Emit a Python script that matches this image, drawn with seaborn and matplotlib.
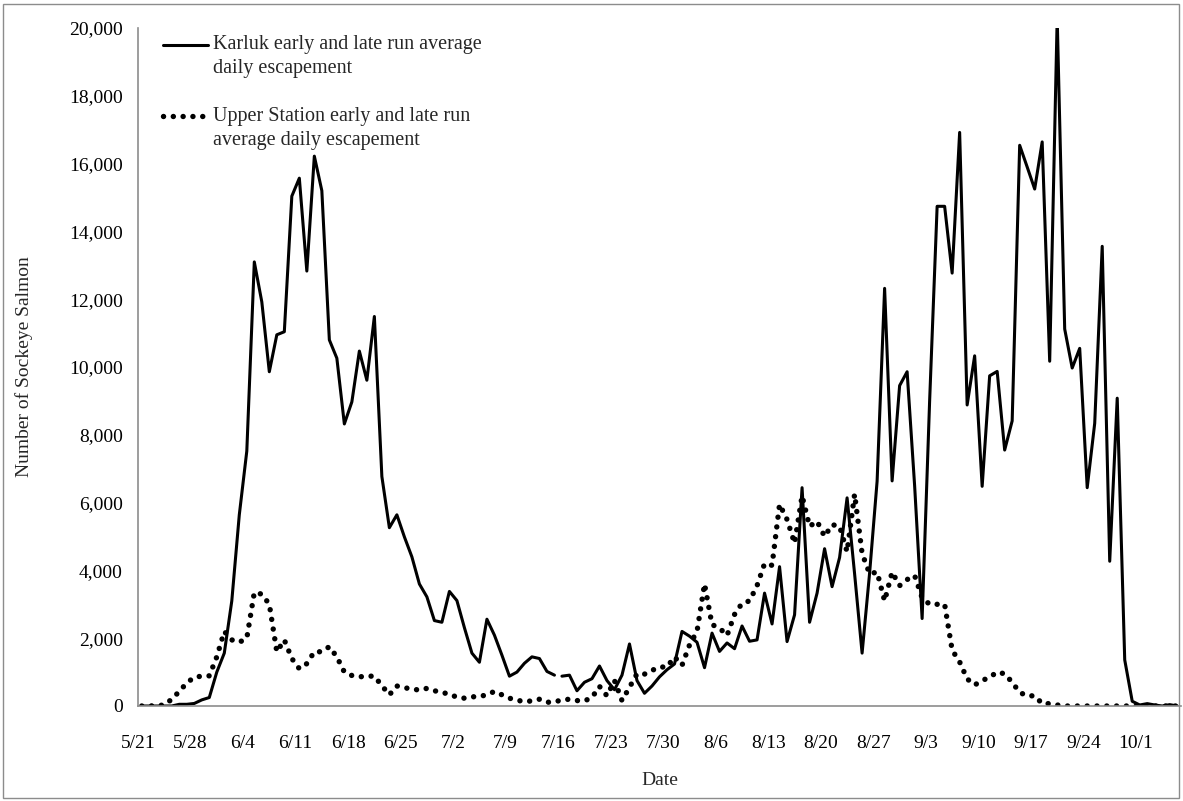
import matplotlib
matplotlib.use("Agg")
import matplotlib.pyplot as plt
import seaborn as sns
import pandas as pd
import numpy as np
from matplotlib.lines import Line2D
from matplotlib.patches import Rectangle

# Days since 5/21 (0 .. 138)
tick_labels = ["5/21", "5/28", "6/4", "6/11", "6/18", "6/25", "7/2", "7/9", "7/16",
               "7/23", "7/30", "8/6", "8/13", "8/20", "8/27", "9/3", "9/10", "9/17",
               "9/24", "10/1"]

karluk = [0, 0, 0, 0, 0, 50, 50, 75, 180, 250,
          1000, 1560, 3100, 5640, 7520, 13100, 11920, 9860, 10950, 11040,
          15040, 15570, 12830, 16220, 15200, 10800, 10260, 8320, 8970, 10470,
          9610, 11490, 6770, 5260, 5640, 4990, 4400, 3600, 3220, 2520,
          2470, 3380, 3110, 2310, 1560, 1290, 2560, 2090, 1500, 880,
          1000, 1260, 1450, 1400, 1020, 910, 880, 910, 450, 700,
          805, 1180, 750, 480, 910, 1830, 750, 375, 590, 860,
          1070, 1240, 2200, 2060, 1880, 1130, 2150, 1610, 1860, 1690,
          2360, 1910, 1950, 3330, 2420, 4110, 1900, 2690, 6440, 2470,
          3330, 4640, 3520, 4380, 6140, 3900, 1560, 3920, 6630, 12320,
          6640, 9450, 9860, 6500, 2580, 9000, 14740, 14740, 12770, 16920,
          8880, 10330, 6480, 9740, 9870, 7550, 8410, 16540, 15900, 15250,
          16640, 10170, 20300, 11120, 9970, 10550, 6440, 8340, 13560, 4270,
          9080, 1360, 140, 30, 70, 30, 0, 40, 0]

upper = [0, 0, 10, 30, 200, 430, 680, 850, 880, 890,
         1450, 2200, 1950, 1880, 2000, 3350, 3300, 3000, 1600, 1950,
         1400, 1100, 1250, 1600, 1600, 1750, 1450, 1000, 900, 860,
         880, 880, 600, 330, 590, 540, 500, 470, 520, 450,
         400, 350, 260, 230, 270, 280, 330, 430, 330, 230,
         170, 130, 150, 200, 110, 120, 180, 200, 160, 150,
         250, 580, 300, 750, 160, 550, 950, 940, 1050, 1150,
         1150, 1450, 1200, 1800, 2200, 3600, 2400, 2300, 2080, 2700,
         3030, 3100, 3550, 4200, 4150, 5950, 5500, 4800, 6200, 5300,
         5450, 5000, 5350, 5300, 4550, 6250, 4500, 3900, 3950, 3100,
         3950, 3550, 3730, 3850, 3190, 3000, 3000, 3000, 1650, 1300,
         800, 620, 750, 850, 1000, 950, 700, 400, 300, 300,
         70, 70, 30, 0, 0, 0, 0, 0, 0, 0,
         0, 0, 0, 0, 0, 0, 0, 0, 0]

karluk_gap_after = 55  # Karluk line is broken between this day and the next

legend_lines = [["Karluk early and late run average", "daily escapement"],
                ["Upper Station early and late run", "average daily escapement"]]

n = len(karluk)
days = np.arange(n) + 0.5
df = pd.DataFrame({"day": days, "karluk": karluk, "upper": upper})

sns.set_theme(style="white")
plt.rcParams["font.family"] = ["Liberation Serif", "DejaVu Serif"]

W, H = 1183, 801
fig = plt.figure(figsize=(W / 100, H / 100), dpi=100)
fig.patches.append(Rectangle((3 / W, 3 / H), 1 - 7 / W, 1 - 7 / H, transform=fig.transFigure,
                             fill=False, edgecolor="#8c8c8c", linewidth=1.0))
ax = fig.add_axes([138 / W, 1 - 706 / H, (1181 - 138) / W, (706 - 28) / H])

solid_kw = dict(color="black", linewidth=2.2)
dot_kw = dict(color="black", linewidth=3.9, linestyle=(0, (0.01, 1.8)), dash_capstyle="round")

seg1 = df[df["day"] < karluk_gap_after + 1]
seg2 = df[df["day"] > karluk_gap_after + 1]
for seg in (seg1, seg2):
    sns.lineplot(data=seg, x="day", y="karluk", ax=ax, estimator=None, sort=False, **solid_kw)
sns.lineplot(data=df, x="day", y="upper", ax=ax, estimator=None, sort=False, **dot_kw)
ax.lines[-1].set_dash_capstyle("round")

ax.set_xlim(0, n)
ax.set_ylim(0, 20000)
ax.set_xticks(np.arange(len(tick_labels)) * 7)
ax.set_xticklabels(tick_labels)
ax.set_yticks(np.arange(0, 20001, 2000))
ax.set_yticklabels([f"{v:,}" for v in range(0, 20001, 2000)])

for side in ("top", "right"):
    ax.spines[side].set_visible(False)
for side in ("left", "bottom"):
    ax.spines[side].set_color("#8c8c8c")
    ax.spines[side].set_linewidth(1.2)
ax.tick_params(axis="both", which="major", direction="out", length=5, width=1.0,
               color="#8c8c8c", labelsize=14, labelcolor="black")
ax.tick_params(axis="y", pad=6)
ax.tick_params(axis="x", pad=16)

ax.set_xlabel("Date", fontsize=14, labelpad=14)
ax.set_ylabel("Number of Sockeye Salmon", fontsize=14, labelpad=26)

# Legend: handle aligned with the first line of each wrapped label
entry_y = [45, 116]
line_gap = 24
for (l1, l2), y0, kw in zip(legend_lines, entry_y, (solid_kw, dot_kw)):
    yf = 1 - y0 / H
    fig.add_artist(Line2D([163 / W, 208 / W], [yf, yf], transform=fig.transFigure, **kw))
    fig.text(213 / W, yf, l1, fontsize=14.5, va="center", ha="left")
    fig.text(213 / W, 1 - (y0 + line_gap) / H, l2, fontsize=14.5, va="center", ha="left")

fig.savefig("out.png", dpi=100)
